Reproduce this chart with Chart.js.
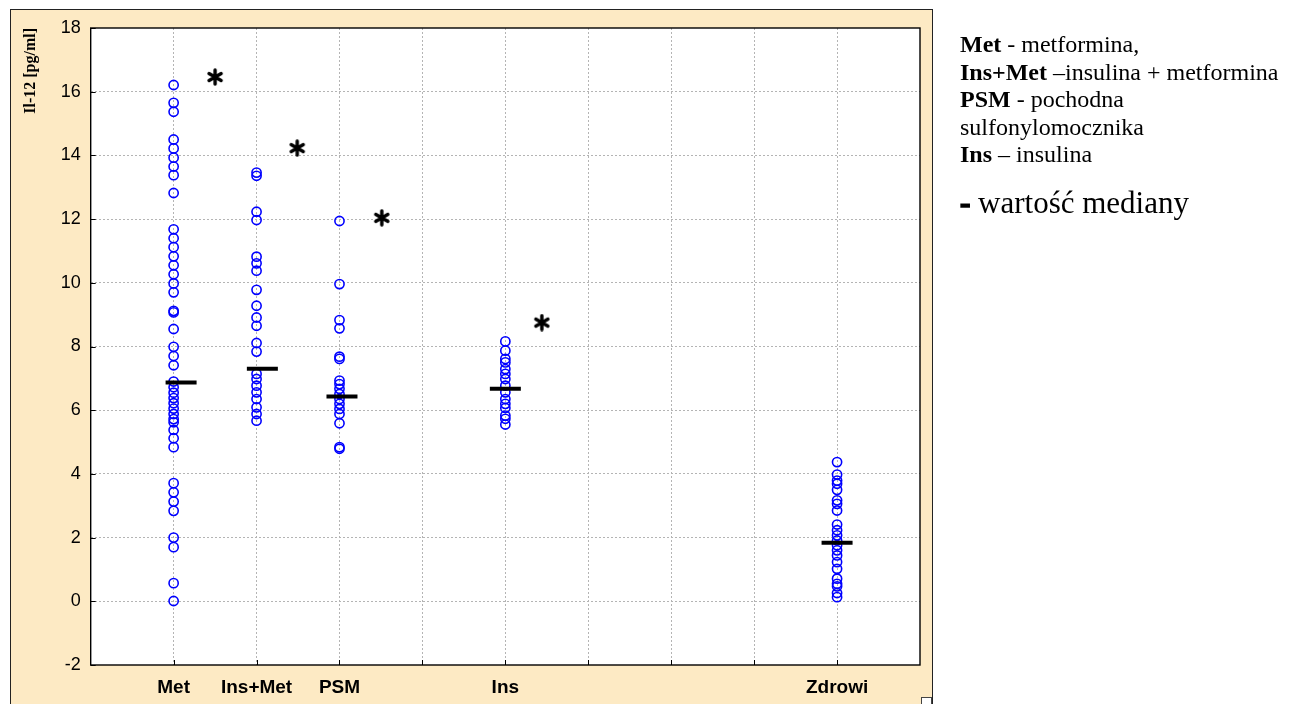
<!DOCTYPE html>
<html>
<head>
<meta charset="utf-8">
<script src="https://cdn.jsdelivr.net/npm/chart.js@4/dist/chart.umd.min.js"></script>
<style>
  html, body { margin: 0; padding: 0; background: #fff; width: 1297px; height: 704px; overflow: hidden; }
  #panel { position: absolute; left: 10px; top: 9px; width: 923px; height: 720px; background: #FDEAC4;
           border: 1px solid #222; box-sizing: border-box; }
  #chart { position: absolute; left: 0; top: 0; }
  #notes { position: absolute; left: 960px; top: 31px; font-family: "Liberation Serif", "Times New Roman", serif;
           font-size: 24px; line-height: 27.5px; color: #000; white-space: nowrap; }
  #median { position: absolute; left: 960px; top: 185px; font-family: "Liberation Serif", "Times New Roman", serif;
            font-size: 31px; line-height: 35.6px; color: #000; white-space: nowrap; }
  #median .dash { font-weight: bold; -webkit-text-stroke: 1.6px #000; }
  #corner { position: absolute; left: 921px; top: 697px; width: 11px; height: 11px; background: #fff;
            border: 1px solid #444; box-sizing: border-box; }
</style>
</head>
<body>
<div id="panel"></div>
<canvas id="chart" width="1297" height="704"></canvas>
<div id="notes">
  <div><b>Met</b> - metformina,</div>
  <div><b>Ins+Met</b> –insulina + metformina</div>
  <div><b>PSM</b> - pochodna</div>
  <div>sulfonylomocznika</div>
  <div><b>Ins</b> – insulina</div>
</div>
<div id="median"><span class="dash">-</span> wartość mediany</div>
<div id="corner"></div>
<script>
// Groups and their positions on the x axis
const categories = ['Met', 'Ins+Met', 'PSM', 'Ins', 'Zdrowi'];
const categoryPos = [1, 2, 3, 5, 9];

// IL-12 concentrations [pg/ml] per group
const metValues = [16.21, 15.65, 15.37, 14.50, 14.22, 13.93, 13.65, 13.38, 12.82, 11.68, 11.40, 11.12,
  10.83, 10.55, 10.27, 9.98, 9.70, 9.12, 9.07, 8.55, 7.99, 7.70, 7.41, 6.90, 6.72, 6.55, 6.38, 6.22,
  6.05, 5.88, 5.72, 5.62, 5.38, 5.12, 4.84, 3.71, 3.42, 3.13, 2.84, 2.00, 1.70, 0.57, 0.01];
const insMetValues = [13.46, 13.36, 12.23, 11.97, 10.82, 10.61, 10.38, 9.78, 9.28, 8.91, 8.65, 8.11,
  7.84, 7.14, 6.98, 6.77, 6.56, 6.35, 6.09, 5.88, 5.67];
const psmValues = [11.94, 9.96, 8.83, 8.57, 7.68, 7.61, 6.93, 6.82, 6.67, 6.51, 6.35, 6.20, 6.04,
  5.88, 5.59, 4.84, 4.79];
const insValues = [8.16, 7.87, 7.61, 7.50, 7.29, 7.14, 6.98, 6.77, 6.56, 6.35, 6.20, 6.07, 5.83,
  5.73, 5.55];
const zdrowiValues = [4.37, 3.98, 3.79, 3.69, 3.50, 3.17, 3.06, 2.85, 2.41, 2.23, 2.07, 1.91, 1.76,
  1.60, 1.44, 1.23, 1.02, 0.71, 0.55, 0.47, 0.26, 0.13];

// Group medians and where their bars sit
const medianValues = [6.87, 7.30, 6.43, 6.67, 1.84];
const medianPos = [1.09, 2.07, 3.03, 5.0, 9.0];

// Significance markers (asterisks)
const starPos = [1.50, 2.49, 3.51, 5.44];
const starValues = [16.46, 14.23, 12.04, 8.75];

// Axis ticks
const yTickValues = [-2, 0, 2, 4, 6, 8, 10, 12, 14, 16, 18];
const xGridValues = [1, 2, 3, 4, 5, 6, 7, 8, 9];

const groups = [metValues, insMetValues, psmValues, insValues, zdrowiValues];
const pointData = [];
groups.forEach((vals, i) => vals.forEach(v => pointData.push({ x: categoryPos[i], y: v })));
const medianData = medianValues.map((v, i) => ({ x: medianPos[i], y: v }));
const starData = starValues.map((v, i) => ({ x: starPos[i], y: v }));

const labelAt = {};
categoryPos.forEach((p, i) => { labelAt[p] = categories[i]; });

// Bold six-armed asterisk used as a point style
function makeAsterisk(size) {
  const c = document.createElement('canvas');
  c.width = size; c.height = size;
  const g = c.getContext('2d');
  g.strokeStyle = '#000';
  g.lineWidth = 3.4;
  g.lineCap = 'round';
  const cx = size / 2, cy = size / 2, r = size / 2 - 2;
  g.beginPath();
  for (let k = 0; k < 3; k++) {
    const a = Math.PI / 2 + k * Math.PI / 3;
    g.moveTo(cx + r * Math.cos(a), cy + r * Math.sin(a));
    g.lineTo(cx - r * Math.cos(a), cy - r * Math.sin(a));
  }
  g.stroke();
  return c;
}

// White plot area, black frame and inward tick marks
const plotFrame = {
  id: 'plotFrame',
  beforeDraw(chart) {
    const { ctx, chartArea: a } = chart;
    ctx.save();
    ctx.fillStyle = '#fff';
    ctx.fillRect(a.left, a.top, a.right - a.left, a.bottom - a.top);
    ctx.restore();
  },
  afterDraw(chart) {
    const { ctx, chartArea: a, scales } = chart;
    ctx.save();
    ctx.strokeStyle = '#000';
    ctx.lineWidth = 1;
    ctx.beginPath();
    yTickValues.forEach(v => {
      const py = Math.round(scales.y.getPixelForValue(v)) + 0.5;
      ctx.moveTo(a.left, py); ctx.lineTo(a.left + 5, py);
    });
    xGridValues.forEach(v => {
      const px = Math.round(scales.x.getPixelForValue(v)) + 0.5;
      ctx.moveTo(px, a.bottom); ctx.lineTo(px, a.bottom - 5);
    });
    ctx.stroke();
    ctx.lineWidth = 1.4;
    ctx.strokeRect(a.left, a.top, a.right - a.left, a.bottom - a.top);
    ctx.restore();
  }
};

new Chart(document.getElementById('chart'), {
  type: 'scatter',
  data: {
    datasets: [
      {
        label: 'mediana',
        data: medianData,
        pointStyle: 'line',
        pointRadius: 15.5,
        pointHoverRadius: 15.5,
        borderColor: '#000',
        borderWidth: 4,
        pointBorderWidth: 4,
        order: 0
      },
      {
        label: 'istotność',
        data: starData,
        pointStyle: makeAsterisk(18),
        pointRadius: 9,
        order: 1
      },
      {
        label: 'Il-12',
        data: pointData,
        pointStyle: 'circle',
        pointRadius: 4.6,
        pointHoverRadius: 4.6,
        borderColor: '#0000FF',
        backgroundColor: 'rgba(0,0,0,0)',
        pointBorderWidth: 1.6,
        borderWidth: 1.6,
        order: 2
      }
    ]
  },
  options: {
    responsive: false,
    animation: false,
    events: [],
    layout: { padding: { left: 10, right: 377, top: 28, bottom: 0 } },
    plugins: { legend: { display: false }, tooltip: { enabled: false } },
    scales: {
      x: {
        type: 'linear',
        min: 0, max: 10,
        afterFit(scale) { scale.height = 39; },
        afterBuildTicks(scale) { scale.ticks = [0,1,2,3,4,5,6,7,8,9,10].map(v => ({ value: v })); },
        ticks: {
          autoSkip: false,
          maxRotation: 0,
          padding: 11,
          color: '#000',
          font: { family: '"Liberation Sans", Arial, sans-serif', size: 19, weight: 'bold' },
          callback: v => labelAt[v] || ''
        },
        grid: {
          drawTicks: false,
          color: ctx => (ctx.tick && ctx.tick.value > 0 && ctx.tick.value < 10) ? '#b4b4b4' : 'rgba(0,0,0,0)',
          lineWidth: 1
        },
        border: { display: false, dash: [2, 2] }
      },
      y: {
        min: -2, max: 18,
        afterFit(scale) { scale.width = 80.7; },
        afterBuildTicks(scale) { scale.ticks = yTickValues.map(v => ({ value: v })); },
        ticks: {
          padding: 10,
          color: '#000',
          font: { family: '"Liberation Sans", Arial, sans-serif', size: 18 }
        },
        grid: {
          drawTicks: false,
          color: ctx => (ctx.tick && ctx.tick.value > -2 && ctx.tick.value < 18) ? '#b4b4b4' : 'rgba(0,0,0,0)',
          lineWidth: 1
        },
        border: { display: false, dash: [2, 2] },
        title: {
          display: true,
          text: 'Il-12 [pg/ml]',
          align: 'end',
          color: '#000',
          padding: { top: 11, bottom: 0 },
          font: { family: '"Liberation Serif", "Times New Roman", serif', size: 16, weight: 'bold' }
        }
      }
    }
  },
  plugins: [plotFrame]
});
</script>
</body>
</html>
